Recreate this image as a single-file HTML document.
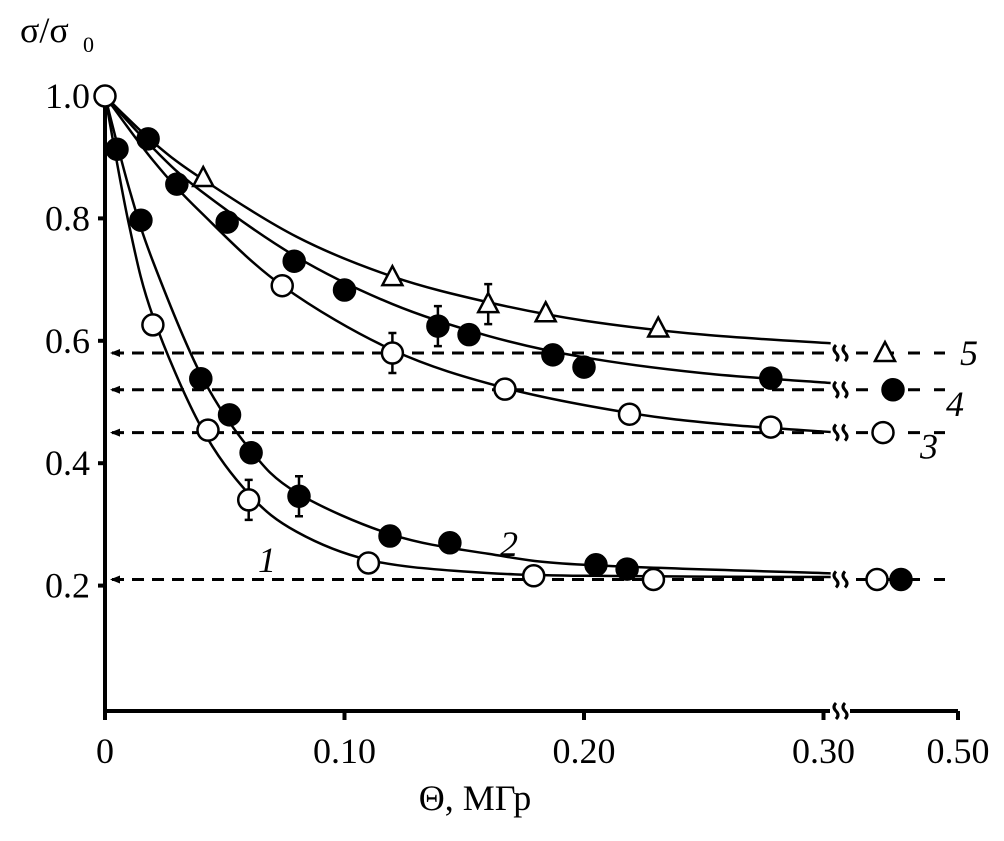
<!DOCTYPE html>
<html><head><meta charset="utf-8"><style>
body{margin:0;background:#fff}
svg{display:block;font-family:"Liberation Serif",serif}
</style></head><body>
<svg id="c" width="1004" height="841" viewBox="0 0 1004 841">
<g id="g"></g>
</svg>
<script>
const xTicks=[0,0.1,0.2,0.3];
const xTickLabels=["0","0.10","0.20","0.30"];
const yTicks=[0.2,0.4,0.6,0.8,1.0];
const yTickLabels=["0.2","0.4","0.6","0.8","1.0"];
const s1x=[0.02,0.043,0.06,0.11,0.179,0.229];
const s1y=[0.626,0.454,0.34,0.237,0.216,0.21];
const s2x=[0.005,0.015,0.04,0.052,0.061,0.081,0.119,0.144,0.205,0.218];
const s2y=[0.913,0.797,0.538,0.479,0.417,0.346,0.281,0.27,0.234,0.227];
const s3x=[0.074,0.12,0.167,0.219,0.278];
const s3y=[0.69,0.58,0.521,0.48,0.459];
const s4x=[0.018,0.03,0.051,0.079,0.1,0.139,0.152,0.187,0.2,0.278];
const s4y=[0.93,0.856,0.794,0.73,0.683,0.624,0.61,0.577,0.557,0.539];
const s5x=[0.041,0.12,0.16,0.184,0.231];
const s5y=[0.866,0.704,0.66,0.645,0.62];
const f1x=[0,0.01,0.02,0.04,0.06,0.08,0.11,0.15,0.2,0.303];
const f1y=[1,0.79,0.64,0.46,0.35,0.288,0.242,0.223,0.216,0.214];
const f2x=[0,0.01,0.02,0.04,0.06,0.08,0.12,0.16,0.2,0.303];
const f2y=[1,0.85,0.73,0.545,0.425,0.352,0.283,0.252,0.234,0.22];
const f3x=[0,0.02,0.04,0.074,0.12,0.167,0.219,0.26,0.303];
const f3y=[1,0.895,0.81,0.69,0.585,0.523,0.482,0.463,0.451];
const f4x=[0,0.02,0.04,0.08,0.12,0.16,0.2,0.25,0.303];
const f4y=[1,0.915,0.845,0.737,0.66,0.608,0.573,0.547,0.531];
const f5x=[0,0.02,0.04,0.08,0.12,0.16,0.2,0.25,0.303];
const f5y=[1,0.925,0.866,0.77,0.705,0.663,0.633,0.61,0.596];
const limits=[0.21,0.45,0.52,0.58];
const NS="http://www.w3.org/2000/svg";
const g=document.getElementById('g');
const X=v=>105+v*2395;
const Y=v=>96+(1-v)*612;
function el(t,a,txt){const e=document.createElementNS(NS,t);for(const k in a)e.setAttribute(k,a[k]);if(txt!=null)e.textContent=txt;g.appendChild(e);return e;}
let e=el('path',{d:'M105 96 V711 H830 M850 711 H958',stroke:'#000','stroke-width':4,fill:'none'});

e=el('path',{d:'M836 703 q-4 4 0 8 q4 4 0 8 M845 703 q-4 4 0 8 q4 4 0 8',stroke:'#000','stroke-width':3,fill:'none'});

xTicks.forEach((t,i)=>{
 el('line',{x1:X(t),x2:X(t),y1:711,y2:720,stroke:'#000','stroke-width':4});
 e=el('text',{x:X(t),y:763,'font-size':36,'text-anchor':'middle'},xTickLabels[i]);
 
});
el('line',{x1:958,x2:958,y1:711,y2:720,stroke:'#000','stroke-width':4});
e=el('text',{x:958,y:763,'font-size':36,'text-anchor':'middle'},'0.50');

yTicks.forEach((t,i)=>{
 el('line',{x1:98,x2:105,y1:Y(t),y2:Y(t),stroke:'#000','stroke-width':4});
 e=el('text',{x:90,y:Y(t)+12,'font-size':36,'text-anchor':'end'},yTickLabels[i]);
 
});
e=el('text',{x:475,y:810,'font-size':36,'text-anchor':'middle'},'Θ, МГр');

e=el('text',{x:20,y:42,'font-size':36},'σ/σ');

el('text',{x:83,y:52,'font-size':22},'0');
limits.forEach(l=>{
 e=el('line',{x1:112,x2:830,y1:Y(l),y2:Y(l),stroke:'#000','stroke-width':3,'stroke-dasharray':'12 8'});
 
 el('path',{d:`M110 ${Y(l)} l10 -4 v8 z`,fill:'#000'});
 el('path',{d:`M836 ${Y(l)-8} q-4 4 0 8 q4 4 0 8 M845 ${Y(l)-8} q-4 4 0 8 q4 4 0 8`,stroke:'#000','stroke-width':3,fill:'none'});
 el('line',{x1:856,x2:945,y1:Y(l),y2:Y(l),stroke:'#000','stroke-width':3,'stroke-dasharray':'12 14'});
});
function curve(xs,ys,name){
 const p=xs.map((x,i)=>[X(x),Y(ys[i])]);
 let d=`M${p[0][0]} ${p[0][1]}`;
 for(let i=0;i<p.length-1;i++){
  const p0=p[Math.max(0,i-1)],p1=p[i],p2=p[i+1],p3=p[Math.min(p.length-1,i+2)];
  d+=` C${p1[0]+(p2[0]-p0[0])/6} ${p1[1]+(p2[1]-p0[1])/6} ${p2[0]-(p3[0]-p1[0])/6} ${p2[1]-(p3[1]-p1[1])/6} ${p2[0]} ${p2[1]}`;
 }
 const c=el('path',{d,stroke:'#000','stroke-width':2.5,fill:'none'});
 
}
curve(f1x,f1y,'fit-curve-1');curve(f2x,f2y,'fit-curve-2');curve(f3x,f3y,'fit-curve-3');curve(f4x,f4y,'fit-curve-4');curve(f5x,f5y,'fit-curve-5');
function mark(type,x,y,name){
 let m;
 if(type==='tri') m=el('path',{d:`M${x} ${y-11} L${x+10} ${y+8} L${x-10} ${y+8} Z`,fill:'#fff',stroke:'#000','stroke-width':2.5});
 else m=el('circle',{cx:x,cy:y,r:10.5,fill:type==='fill'?'#000':'#fff',stroke:'#000','stroke-width':2.5});
 
}
function pts(xs,ys,type,name){for(let i=0;i<xs.length;i++)mark(type,X(xs[i]),Y(ys[i]),name);}
[[s1x[2],s1y[2]],[s2x[5],s2y[5]],[s3x[1],s3y[1]],[s4x[5],s4y[5]],[s5x[2],s5y[2]]].forEach(([x,y])=>{
 el('path',{d:`M${X(x)} ${Y(y)-20} V${Y(y)+20} M${X(x)-4} ${Y(y)-20} h8 M${X(x)-4} ${Y(y)+20} h8`,stroke:'#000','stroke-width':2.5,fill:'none'});
});
pts(s5x,s5y,'tri','point-series-5');pts(s4x,s4y,'fill','point-series-4');pts(s3x,s3y,'open','point-series-3');
pts(s2x,s2y,'fill','point-series-2');pts(s1x,s1y,'open','point-series-1');
mark('open',X(0),Y(1),'point-origin');
mark('tri',885,Y(0.58),'limit-marker-5');mark('fill',893,Y(0.52),'limit-marker-4');mark('open',883,Y(0.45),'limit-marker-3');
mark('open',877,Y(0.21),'limit-marker-1');mark('fill',901,Y(0.21),'limit-marker-2');
[['5',960,Y(0.58)+12],['4',946,Y(0.52)+26],['3',920,Y(0.45)+26],['1',258,572],['2',500,556]].forEach(([t,x,y])=>{
 e=el('text',{x,y,'font-size':36,'font-style':'italic'},t);
 
});
</script>
</body></html>
